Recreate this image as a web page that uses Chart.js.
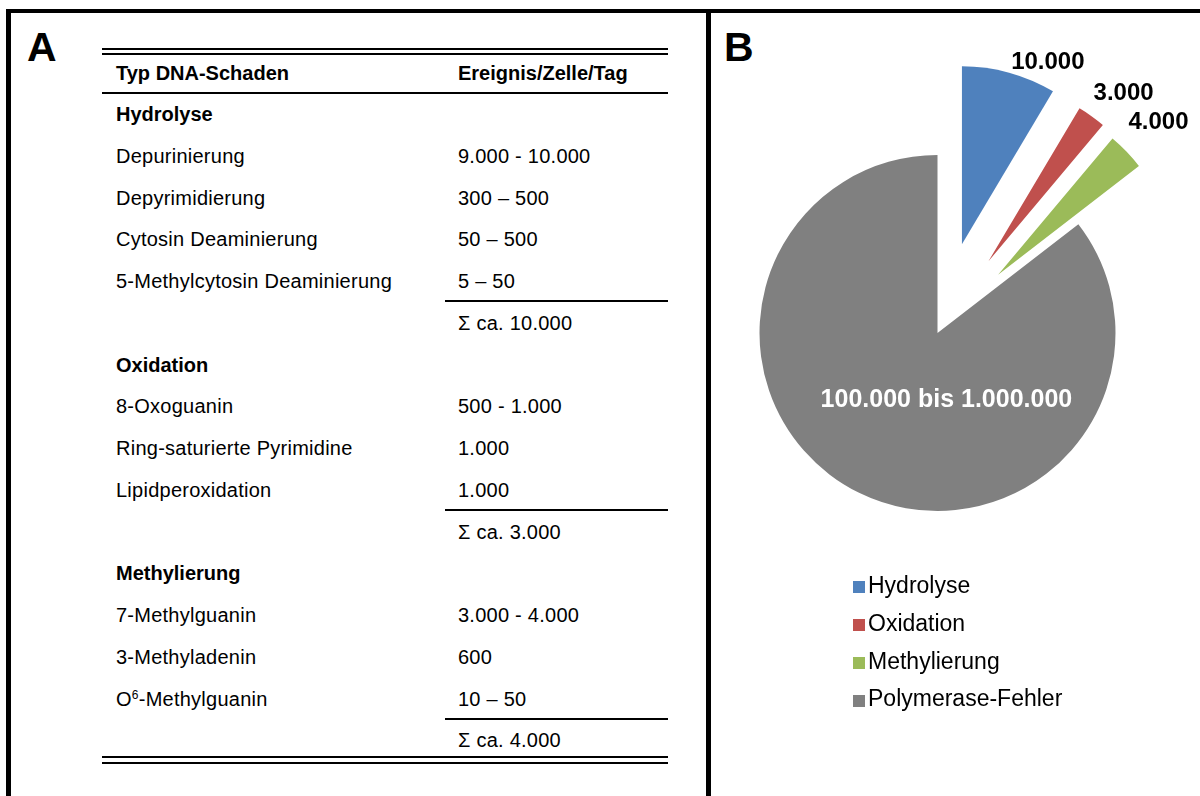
<!DOCTYPE html>
<html lang="de">
<head>
<meta charset="utf-8">
<title>DNA-Schäden pro Zelle und Tag</title>
<script src="https://cdn.jsdelivr.net/npm/chart.js@4.4.1/dist/chart.umd.min.js"></script>
<style>
  html, body { margin: 0; padding: 0; background: #fff; }
  body {
    width: 1200px; height: 796px; position: relative; overflow: hidden;
    font-family: "Liberation Sans", Arial, Helvetica, sans-serif; color: #000;
  }
  #frame {
    position: absolute; left: 6px; top: 9px; width: 1300px; height: 900px;
    border-style: solid; border-color: #000; border-width: 4px 0 0 5px;
  }
  #divider { position: absolute; left: 706px; top: 9px; width: 5px; height: 800px; background: #000; }
  .panel-tag { position: absolute; font-weight: bold; font-size: 41px; line-height: 41px; }
  .rule { position: absolute; height: 2px; background: #000; }
  .cell { position: absolute; font-size: 20px; line-height: 20px; white-space: nowrap; letter-spacing: 0.25px; }
  .cell.b { font-weight: bold; letter-spacing: 0; }
  .cell sup { font-size: 12px; line-height: 0; vertical-align: 7px; }
  #pieWrap { position: absolute; left: 712px; top: 13px; width: 488px; height: 783px; }
  #legend { position: absolute; left: 853px; top: 567px; }
  .lg-item { display: flex; align-items: center; height: 37.8px; font-size: 23px; line-height: 37.8px; white-space: nowrap; }
  .lg-box { width: 12px; height: 12px; margin-right: 3px; margin-top: 3px; flex: none; }
</style>
</head>
<body>
<div id="frame"></div>
<div id="divider"></div>
<div class="panel-tag" style="left:27px; top:27px;">A</div>
<div class="panel-tag" style="left:724px; top:27px;">B</div>
<div id="table"></div>
<div id="pieWrap"><canvas id="pie" width="488" height="783"></canvas></div>
<div id="legend"></div>

<script>
// ---- Table A: DNA damage events per cell and day ----
const tableHeader = ['Typ DNA-Schaden', 'Ereignis/Zelle/Tag'];
const damageGroups = ['Hydrolyse', 'Oxidation', 'Methylierung'];
const damageTypes = [
  ['Depurinierung', 'Depyrimidierung', 'Cytosin Deaminierung', '5-Methylcytosin Deaminierung'],
  ['8-Oxoguanin', 'Ring-saturierte Pyrimidine', 'Lipidperoxidation'],
  ['7-Methylguanin', '3-Methyladenin', 'O⁶-Methylguanin']
];
const eventRates = [
  ['9.000 - 10.000', '300 – 500', '50 – 500', '5 – 50'],
  ['500 - 1.000', '1.000', '1.000'],
  ['3.000 - 4.000', '600', '10 – 50']
];
const groupSums = ['Σ ca. 10.000', 'Σ ca. 3.000', 'Σ ca. 4.000'];

// ---- Pie B: share of damage sources ----
const pieLabels = ['Hydrolyse', 'Oxidation', 'Methylierung', 'Polymerase-Fehler'];
const pieValues = [10000, 3000, 4000, 100000];
const pieUpperBounds = [null, null, null, 1000000];

// styles
const sliceColors = ['#4F81BD', '#C0504D', '#9BBB59', '#808080'];
const explodeDistances = [92, 88, 84, 0];

// ---------- table layout ----------
const table = document.getElementById('table');
const COL1 = 116, COL2 = 458, LEFT = 102, RIGHT = 668, SUM_LEFT = 445;
const FIRST_BASELINE = 121, PITCH = 41.75, ASCENT = 17;

function cell(text, x, baseline, bold) {
  const d = document.createElement('div');
  d.className = 'cell' + (bold ? ' b' : '');
  d.style.left = x + 'px';
  d.style.top = (baseline - ASCENT) + 'px';
  const esc = text.replace(/&/g, '&amp;').replace(/</g, '&lt;');
  d.innerHTML = esc.replace('⁶', '<sup>6</sup>');
  table.appendChild(d);
}
function rule(x1, x2, y) {
  const d = document.createElement('div');
  d.className = 'rule';
  d.style.left = x1 + 'px';
  d.style.width = (x2 - x1) + 'px';
  d.style.top = y + 'px';
  table.appendChild(d);
}

rule(LEFT, RIGHT, 48);
rule(LEFT, RIGHT, 53);
cell(tableHeader[0], COL1, 80, true);
cell(tableHeader[1], COL2, 80, true);
rule(LEFT, RIGHT, 92);

let row = 0;
const baselineOf = r => FIRST_BASELINE + r * PITCH;
damageGroups.forEach((group, g) => {
  cell(group, COL1, baselineOf(row), true);
  row++;
  damageTypes[g].forEach((name, k) => {
    cell(name, COL1, baselineOf(row), false);
    cell(eventRates[g][k], COL2, baselineOf(row), false);
    row++;
  });
  rule(SUM_LEFT, RIGHT, Math.round(baselineOf(row - 1) + 12));
  cell(groupSums[g], COL2, baselineOf(row), false);
  row++;
});
const lastBaseline = baselineOf(row - 1);
rule(LEFT, RIGHT, Math.round(lastBaseline + 9));
rule(LEFT, RIGHT, Math.round(lastBaseline + 15));

// ---------- legend ----------
const legend = document.getElementById('legend');
pieLabels.forEach((label, i) => {
  const item = document.createElement('div');
  item.className = 'lg-item';
  const box = document.createElement('span');
  box.className = 'lg-box';
  box.style.background = sliceColors[i];
  const txt = document.createElement('span');
  txt.textContent = label;
  item.appendChild(box);
  item.appendChild(txt);
  legend.appendChild(item);
});

// ---------- pie chart ----------
const fmtDE = v => String(v).replace(/\B(?=(\d{3})+(?!\d))/g, '.');

// Pull slices outward by a fixed distance along their mid-angle.
const explodePlugin = {
  id: 'explode',
  beforeDatasetDraw(chart, args, opts) {
    const ctx = chart.ctx;
    const dist = opts.distances || [];
    args.meta.data.forEach((arc, i) => {
      const d = dist[i] || 0;
      const mid = (arc.startAngle + arc.endAngle) / 2;
      ctx.save();
      ctx.translate(Math.cos(mid) * d, Math.sin(mid) * d);
      arc.draw(ctx);
      ctx.restore();
    });
    return false;
  }
};

// Value labels: outside the small slices, inside the large one.
const sliceLabelPlugin = {
  id: 'sliceLabels',
  afterDatasetsDraw(chart) {
    const ctx = chart.ctx;
    const meta = chart.getDatasetMeta(0);
    const dist = chart.options.plugins.explode.distances || [];
    meta.data.forEach((arc, i) => {
      const d = dist[i] || 0;
      const mid = (arc.startAngle + arc.endAngle) / 2;
      const cx = arc.x + Math.cos(mid) * d;
      const cy = arc.y + Math.sin(mid) * d;
      const r = arc.outerRadius;
      const text = fmtDE(pieValues[i]) + (pieUpperBounds[i] ? ' bis ' + fmtDE(pieUpperBounds[i]) : '');
      ctx.save();
      if (arc.circumference > Math.PI) {
        ctx.font = 'bold 25px "Liberation Sans", Arial, sans-serif';
        ctx.fillStyle = '#ffffff';
        ctx.textAlign = 'center';
        ctx.textBaseline = 'middle';
        ctx.fillText(text, cx + 0.05 * r, cy + 0.376 * r);
      } else {
        const ax = cx + Math.cos(mid) * r;
        const ay = cy + Math.sin(mid) * r;
        ctx.font = 'bold 24px "Liberation Sans", Arial, sans-serif';
        ctx.fillStyle = '#000000';
        ctx.textAlign = 'left';
        ctx.textBaseline = 'middle';
        ctx.fillText(text, ax + 2, ay - 40 * Math.cos(mid));
      }
      ctx.restore();
    });
  }
};

new Chart(document.getElementById('pie'), {
  type: 'pie',
  data: {
    labels: pieLabels,
    datasets: [{
      data: pieValues,
      backgroundColor: sliceColors,
      borderWidth: 0
    }]
  },
  options: {
    responsive: false,
    animation: false,
    devicePixelRatio: 1,
    events: [],
    radius: 178,
    layout: { padding: { left: 0, right: 37, top: 0, bottom: 143 } },
    plugins: {
      legend: { display: false },
      tooltip: { enabled: false },
      explode: { distances: explodeDistances }
    }
  },
  plugins: [explodePlugin, sliceLabelPlugin]
});
</script>
</body>
</html>
